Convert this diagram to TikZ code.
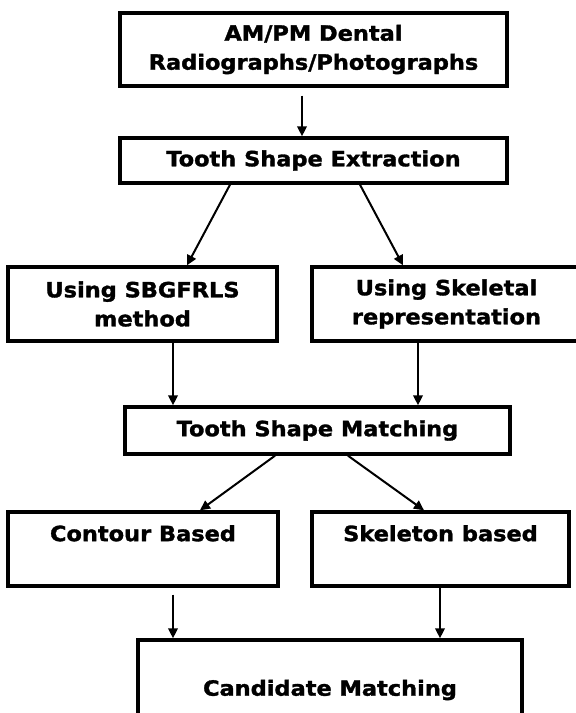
\documentclass[tikz,border=0pt]{standalone}
\usepackage{fontspec}
\setmainfont{DejaVu Sans}[FakeStretch=1.07, BoldFeatures={FakeBold=1.5}]
\usetikzlibrary{arrows.meta,calc}
\tikzset{
  box/.style={draw, line width=3.4pt, rectangle, inner sep=0pt, font=\bfseries\fontsize{21}{29}\selectfont, align=center},
  txt/.style={font=\bfseries\fontsize{21}{29}\selectfont, align=center, inner sep=0pt},
  arr/.style={line width=2pt, -{Triangle[length=10pt,width=9.5pt]}},
}
\begin{document}
\begin{tikzpicture}[x=1pt,y=-1pt]
\clip (0,0) rectangle (576,713);
\fill[white] (0,0) rectangle (576,713);

\node[box, minimum width=387, minimum height=73] (b1) at (313.5,49.5) {AM/PM Dental\\Radiographs/Photographs};
\node[box, minimum width=387, minimum height=45] (b2) at (313.5,160.5) {Tooth Shape Extraction};
\node[box, minimum width=269, minimum height=74] (b3) at (142.5,304) {Using SBGFRLS\\method};
\node[box, minimum width=269, minimum height=74] (b4) at (446.5,304) {Using Skeletal\\representation};
\node[box, minimum width=385, minimum height=47] (b5) at (317.5,430.5) {Tooth Shape Matching};
\node[box, minimum width=270, minimum height=74] (b6) at (143,549) {};
\node[box, minimum width=257, minimum height=74] (b7) at (440.5,549) {};
\node[box, minimum width=384, minimum height=100] (b8) at (330,690) {Candidate Matching};
\node[txt] (t6) at ($(b6.north)+(0,23)$) {Contour Based};
\node[txt] (t7) at ($(b7.north)+(0,23)$) {Skeleton based};

\coordinate (a1) at ($(b1.south)+(-11.5,8)$);
\draw[arr] (a1) -- (a1 |- b2.north);
\draw[arr] ($(b2.south)+(-83.5,0)$) -- ($(b3.north)+(44.5,0)$);
\draw[arr] ($(b2.south)+(46.5,0)$) -- ($(b4.north)+(-43.5,0)$);
\coordinate (a3) at ($(b3.south)+(30.5,-3)$);
\draw[arr] (a3) -- (a3 |- b5.north);
\coordinate (a4) at ($(b4.south)+(-28.5,-3)$);
\draw[arr] (a4) -- (a4 |- b5.north);
\draw[arr] ($(b5.south)+(-42.5,0)$) -- ($(b6.north)+(57,0)$);
\draw[arr] ($(b5.south)+(30.5,0)$) -- ($(b7.north)+(-16.5,0)$);
\coordinate (a6) at ($(b6.south)+(30,7)$);
\draw[arr] (a6) -- (a6 |- b8.north);
\coordinate (a7) at ($(b7.south)+(-0.5,-3)$);
\draw[arr] (a7) -- (a7 |- b8.north);
\end{tikzpicture}
\end{document}
